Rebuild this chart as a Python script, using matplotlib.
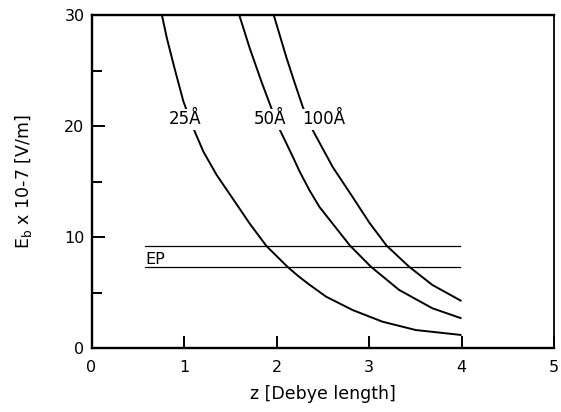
import matplotlib
matplotlib.use("Agg")
import matplotlib.pyplot as plt
from matplotlib.ticker import MultipleLocator

plt.rcParams['font.family'] = ['DejaVu Sans']

# Curve data: z [Debye length], Eb x 1e-7 [V/m]
z_25 = [0.761, 0.815, 0.904, 0.994, 1.101, 1.209, 1.352, 1.532, 1.711, 1.891,
        2.124, 2.244, 2.357, 2.537, 2.823, 3.146, 3.505, 4.0]
e_25 = [30.0, 27.9, 25.0, 22.2, 19.8, 17.7, 15.6, 13.4, 11.2, 9.19,
        7.27, 6.42, 5.7, 4.62, 3.42, 2.37, 1.62, 1.17]

z_50 = [1.597, 1.711, 1.837, 1.945, 2.016, 2.178, 2.25, 2.357, 2.465, 2.645,
        2.795, 3.021, 3.326, 3.685, 4.0]
e_50 = [30.0, 27.0, 24.0, 21.6, 20.0, 17.2, 15.9, 14.2, 12.7, 10.8,
        9.22, 7.32, 5.23, 3.58, 2.67]

z_100 = [1.970, 2.106, 2.196, 2.285, 2.393, 2.608, 2.823, 3.003, 3.190, 3.434,
         3.685, 4.0]
e_100 = [30.0, 26.2, 23.9, 21.7, 19.6, 16.3, 13.6, 11.3, 9.22, 7.32,
         5.68, 4.23]

ep_levels = [9.2, 7.33]
ep_span = [0.58, 3.98]

curve_labels = ["25Å", "50Å", "100Å"]
label_pos = [(1.01, 20.15), (1.93, 20.15), (2.51, 20.15)]

x_ticks = [0, 1, 2, 3, 4, 5]
y_ticks = [0, 10, 20, 30]

fig = plt.figure(figsize=(5.61, 4.12), dpi=100)
ax = fig.add_axes([91.5/561, 64/412, (554-91.5)/561, (348-15)/412])

for z, e in [(z_25, e_25), (z_50, e_50), (z_100, e_100)]:
    ax.plot(z, e, color='black', lw=1.4, solid_capstyle='butt',
            solid_joinstyle='round', zorder=2)

for lvl in ep_levels:
    ax.plot(ep_span, [lvl, lvl], color='black', lw=0.9, zorder=2)

ax.text(ep_span[0], 7.55, "EP", fontsize=11.5, ha='left', va='baseline', zorder=3)

for lab, (x, y) in zip(curve_labels, label_pos):
    ax.text(x, y, lab, fontsize=12, ha='center', va='baseline', zorder=4,
            bbox=dict(facecolor='white', edgecolor='none', pad=1.0))

ax.set_xlim(0, 5)
ax.set_ylim(0, 30)
ax.set_xticks(x_ticks)
ax.set_yticks(y_ticks)
ax.yaxis.set_minor_locator(MultipleLocator(5))
ax.tick_params(axis='both', which='major', direction='in', length=9, width=1.4,
               labelsize=11.5)
ax.tick_params(axis='y', which='minor', direction='in', length=7, width=1.4)
ax.tick_params(axis='x', pad=9)
ax.tick_params(axis='y', pad=5)
for side in ['left', 'bottom', 'top']:
    ax.spines[side].set_linewidth(1.7)
ax.spines['right'].set_linewidth(1.3)

ax.set_xlabel("z [Debye length]", fontsize=12.5, labelpad=7)
ax.set_ylabel(r"E$_\mathregular{b}$ x 10-7 [V/m]", fontsize=12.5, labelpad=22)

fig.savefig("out.png", dpi=100)
